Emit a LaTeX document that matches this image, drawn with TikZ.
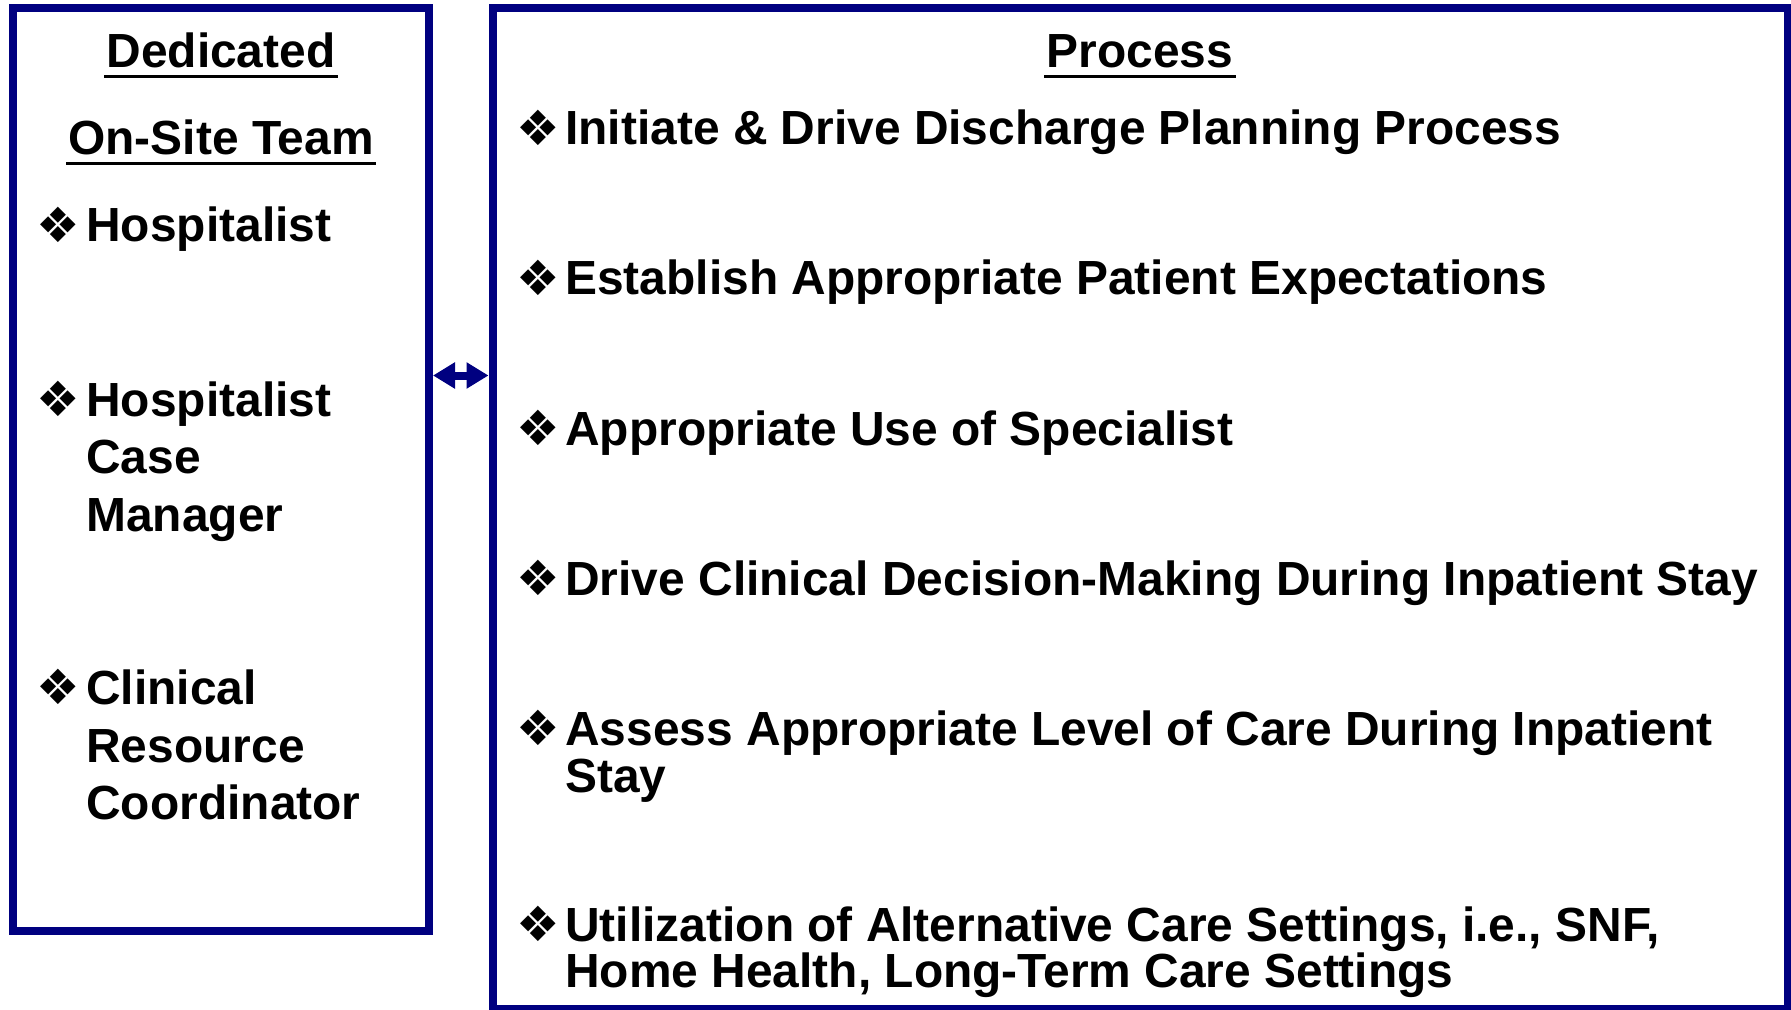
\documentclass[tikz,border=0pt]{standalone}
\usepackage{fontspec}
\setmainfont{Liberation Sans}
\newfontfamily\dingfont{DejaVu Sans}
\usetikzlibrary{arrows.meta}
\definecolor{boxblue}{RGB}{0,0,128}
\begin{document}
\begin{tikzpicture}[x=0.5pt,y=-0.5pt,
  panel/.style={draw=boxblue, line width=4pt, inner sep=0pt},
  txt/.style={anchor=base west, inner sep=0pt, font=\fontsize{23.95}{28}\selectfont\bfseries},
  ttl/.style={anchor=base, inner sep=0pt, font=\fontsize{23.95}{28}\selectfont\bfseries},
  bul/.style={inner sep=0pt, font=\dingfont\fontsize{24.3}{24}\selectfont},
  uline/.style={line width=1.5pt, black},
  link/.style={boxblue, line width=4pt, {Triangle[length=11pt,width=12.5pt]}-{Triangle[length=11pt,width=12.5pt]}}]
\path[use as bounding box] (0,0) rectangle (1791,1010);
% panels
\node[panel, minimum width=208pt, minimum height=461.5pt] (L) at (221,469.5) {};
\node[panel, minimum width=647.5pt, minimum height=500.5pt] (R) at (1140,508.5) {};
% link
\coordinate (ay) at (0,375.5);
\draw[link] (L.east |- ay) -- (R.west |- ay);
% left titles
\node[ttl] (t1) at (221,68) {Dedicated};
\node[ttl] (t2) at (221,155) {On-Site Team};
\draw[uline] ([yshift=-4.3pt,xshift=-1pt]t1.base west) -- ([yshift=-4.3pt,xshift=1pt]t1.base east);
\draw[uline] ([yshift=-4.3pt,xshift=-1pt]t2.base west) -- ([yshift=-4.3pt,xshift=1pt]t2.base east);
% left items
\node[bul] (lb1) at (58,225) {❖};
\node[txt] (l1) at (86,242) {Hospitalist};
\node[bul] (lb2) at (58,399) {❖};
\node[txt] (l2a) at (86,416) {Hospitalist};
\node[txt] (l2b) at (86,473) {Case};
\node[txt] (l2c) at (86,531) {Manager};
\node[bul] (lb3) at (58,687) {❖};
\node[txt] (l3a) at (86,704) {Clinical};
\node[txt] (l3b) at (86,762) {Resource};
\node[txt] (l3c) at (86,819) {Coordinator};
% right title
\node[ttl] (t3) at (1140,68) {Process};
\draw[uline] ([yshift=-4.3pt,xshift=-1pt]t3.base west) -- ([yshift=-4.3pt,xshift=1pt]t3.base east);
% right items
\node[bul] (rb1) at (538,128) {❖};
\node[txt] (r1) at (565,145) {Initiate \& Drive Discharge Planning Process};
\node[bul] (rb2) at (538,278) {❖};
\node[txt] (r2) at (565,295) {Establish Appropriate Patient Expectations};
\node[bul] (rb3) at (538,428) {❖};
\node[txt] (r3) at (565,445) {Appropriate Use of Specialist};
\node[bul] (rb4) at (538,578) {❖};
\node[txt] (r4) at (565,595) {Drive Clinical Decision-Making During Inpatient Stay};
\node[bul] (rb5) at (538,728) {❖};
\node[txt] (r5a) at (565,745) {Assess Appropriate Level of Care During Inpatient};
\node[txt] (r5b) at (565,792) {Stay};
\node[bul] (rb6) at (538,924) {❖};
\node[txt] (r6a) at (565,941) {Utilization of Alternative Care Settings, i.e., SNF,};
\node[txt] (r6b) at (565,987) {Home Health, Long-Term Care Settings};
\end{tikzpicture}
\end{document}
